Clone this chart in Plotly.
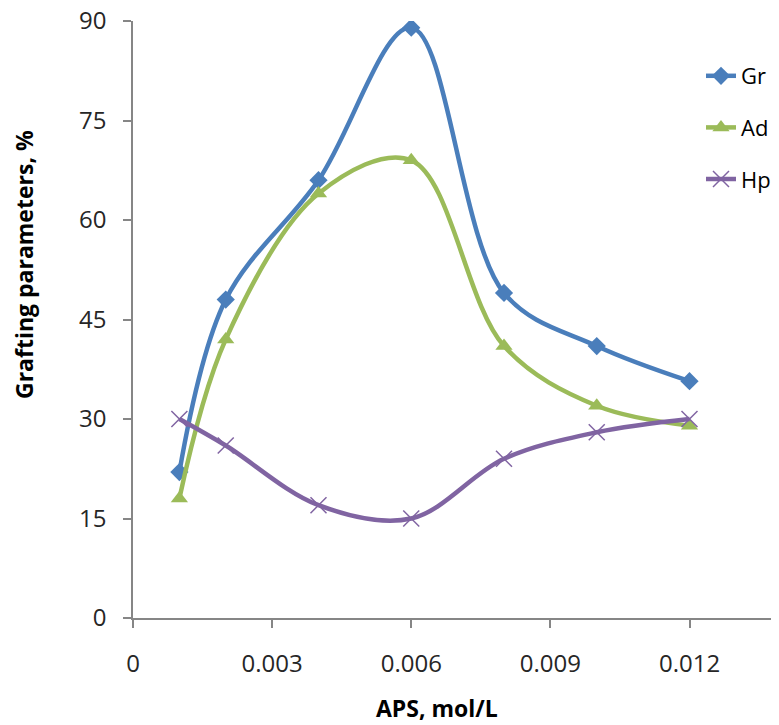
import plotly.graph_objects as go

aps = [0.001, 0.002, 0.004, 0.006, 0.008, 0.010, 0.012]
gr = [22, 48, 66, 89, 49, 41, 35.7]
ad = [18, 42, 64, 69, 41, 32, 29]
hp = [30, 26, 17, 15, 24, 28, 30]

x_ticks = [0, 0.003, 0.006, 0.009, 0.012]
x_tick_text = ["0", "0.003", "0.006", "0.009", "0.012"]
y_ticks = [0, 15, 30, 45, 60, 75, 90]

FONT = "Open Sans"
W, H = 779, 725
OFF = 8  # page body margin
L, R, T, B = 125, 6, 13, 115
PW, PH = W - L - R, H - T - B


def px_x(wx):
    return (wx - OFF - L) / PW


def px_y(wy):
    return ((H - B) - (wy - OFF)) / PH


fig = go.Figure()
series = [
    ("Gr", gr, "#4A7EBB", dict(symbol="diamond", size=14)),
    ("Ad", ad, "#9BBB59", dict(symbol="triangle-up", size=15)),
    ("Hp", hp, "#8064A2", dict(symbol="x-thin", size=16, line=dict(width=1.5, color="#8064A2"))),
]
for name, vals, col, mk in series:
    fig.add_trace(go.Scatter(
        x=aps, y=vals, name=name, mode="lines+markers",
        line=dict(color=col, width=4.5, shape="spline", smoothing=1.0),
        marker=dict(color=col, **mk),
        legendgroup=name,
    ))

fig.update_layout(
    width=W, height=H,
    margin=dict(l=L, r=R, t=T, b=B, autoexpand=False),
    paper_bgcolor="white", plot_bgcolor="white",
    font=dict(family=FONT, size=24, color="#262626"),
    showlegend=True,
    legend=dict(x=px_x(701), y=px_y(55), xanchor="left", yanchor="top",
                bgcolor="rgba(0,0,0,0)", tracegroupgap=20,
                font=dict(family=FONT, size=22, color="#000000")),
    xaxis=dict(range=[0, 0.012 * PW / 556.5], tickvals=x_ticks, ticktext=x_tick_text,
               automargin=False,
               showgrid=False, zeroline=False, showline=True,
               linecolor="#868686", linewidth=1.5, ticks="outside",
               ticklen=8, tickcolor="#868686", tickwidth=1.5,
               ticklabelstandoff=15, ticklabeloverflow="allow",
               tickfont=dict(family=FONT, size=24, color="#262626")),
    yaxis=dict(range=[0, 90], tickvals=y_ticks,
               automargin=False,
               showgrid=False, zeroline=False, showline=True,
               linecolor="#868686", linewidth=1.5, ticks="outside",
               ticklen=8, tickcolor="#868686", tickwidth=1.5,
               ticklabelstandoff=12, ticklabeloverflow="allow",
               tickfont=dict(family=FONT, size=24, color="#262626")),
    annotations=[
        dict(text="<b>APS, mol/L</b>", xref="paper", yref="paper",
             x=px_x(437), y=px_y(708),
             xanchor="center", yanchor="middle", showarrow=False,
             font=dict(family=FONT, size=23, color="#000000")),
        dict(text="<b>Grafting parameters, %</b>", xref="paper", yref="paper",
             x=px_x(24), y=px_y(265),
             xanchor="center", yanchor="middle", textangle=-90, showarrow=False,
             font=dict(family=FONT, size=23, color="#000000")),
    ],
)

fig.write_html("out.html")
